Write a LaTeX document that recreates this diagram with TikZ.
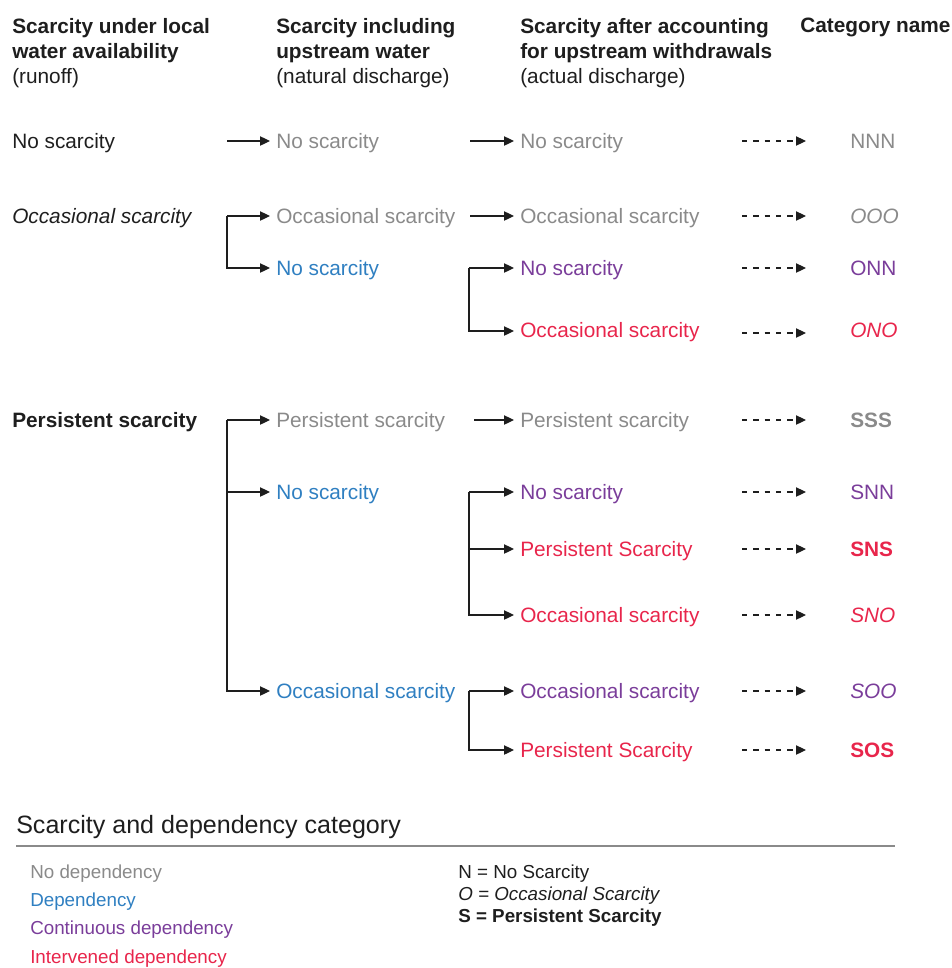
\documentclass[tikz,border=0pt]{standalone}
\usepackage{fontspec}
\setmainfont{Liberation Sans}
\usetikzlibrary{arrows.meta}
\definecolor{tgray}{HTML}{8A8A8A}
\definecolor{tblue}{HTML}{2F7FC1}
\definecolor{tpurp}{HTML}{7A3D9A}
\definecolor{tred}{HTML}{E8254B}
\definecolor{tblack}{HTML}{1E1E1E}
\newcommand{\fsmain}{\fontsize{15.6}{18.75}\selectfont}
\newcommand{\fsleg}{\fontsize{14.1}{16}\selectfont}
\newcommand{\fstitle}{\fontsize{18.8}{22}\selectfont}
\tikzset{
  lbl/.style={anchor=west, inner sep=0pt, text height=0.72em, text depth=0pt, yshift=-2.25pt, font=\fsmain, text=tblack},
  leg/.style={anchor=west, inner sep=0pt, text height=0.72em, text depth=0pt, yshift=-1.5pt, font=\fsleg, text=tblack},
  hdr/.style={anchor=north west, inner sep=0pt, align=left, font=\fsmain, text=tblack},
  arr/.style={draw=tblack, line width=0.9pt, -{Triangle[length=7.5pt,width=7pt]}, shorten >=4.5pt},
  darr/.style={draw=tblack, line width=0.8pt, dash pattern=on 4pt off 4.5pt, -{Triangle[length=7.5pt,width=7pt]}, shorten >=33pt},
}
\begin{document}
\begin{tikzpicture}[x=0.75pt,y=-0.75pt]
\useasboundingbox (0,0) rectangle (952,968);

% headers
\node[hdr] (h1) at (12,18) {\textbf{Scarcity under local}\\\textbf{water availability}\\(runoff)};
\node[hdr] (h2) at (276,18) {\textbf{Scarcity including}\\\textbf{upstream water}\\(natural discharge)};
\node[hdr] (h3) at (520,18) {\textbf{Scarcity after accounting}\\\textbf{for upstream withdrawals}\\(actual discharge)};
\node[hdr] (h4) at (800,18) {\textbf{Category name}};

% column 1
\node[lbl] (a1) at (12,141) {No scarcity};
\node[lbl] (a2) at (12,216) {\itshape Occasional scarcity};
\node[lbl] (a3) at (12,420) {\bfseries Persistent scarcity};

% column 2
\node[lbl,text=tgray] (b1) at (276,141) {No scarcity};
\node[lbl,text=tgray] (b2) at (276,216) {Occasional scarcity};
\node[lbl,text=tblue] (b3) at (276,268) {No scarcity};
\node[lbl,text=tgray] (b4) at (276,420) {Persistent scarcity};
\node[lbl,text=tblue] (b5) at (276,492) {No scarcity};
\node[lbl,text=tblue] (b6) at (276,691) {Occasional scarcity};

% column 3
\node[lbl,text=tgray] (c1) at (520,141) {No scarcity};
\node[lbl,text=tgray] (c2) at (520,216) {Occasional scarcity};
\node[lbl,text=tpurp] (c3) at (520,268) {No scarcity};
\node[lbl,text=tred]  (c4) at (520,330) {Occasional scarcity};
\node[lbl,text=tgray] (c5) at (520,420) {Persistent scarcity};
\node[lbl,text=tpurp] (c6) at (520,492) {No scarcity};
\node[lbl,text=tred]  (c7) at (520,549) {Persistent Scarcity};
\node[lbl,text=tred]  (c8) at (520,615) {Occasional scarcity};
\node[lbl,text=tpurp] (c9) at (520,691) {Occasional scarcity};
\node[lbl,text=tred]  (c10) at (520,750) {Persistent Scarcity};

% column 4
\node[lbl,text=tgray] (d1) at (850,141) {NNN};
\node[lbl,text=tgray] (d2) at (850,216) {\itshape OOO};
\node[lbl,text=tpurp] (d3) at (850,268) {ONN};
\node[lbl,text=tred]  (d4) at (850,330) {\itshape ONO};
\node[lbl,text=tgray] (d5) at (850,420) {\bfseries SSS};
\node[lbl,text=tpurp] (d6) at (850,492) {SNN};
\node[lbl,text=tred]  (d7) at (850,549) {\bfseries SNS};
\node[lbl,text=tred]  (d8) at (850,615) {\itshape SNO};
\node[lbl,text=tpurp] (d9) at (850,691) {\itshape SOO};
\node[lbl,text=tred]  (d10) at (850,750) {\bfseries SOS};

% arrow start coordinates
\coordinate (s1) at (227,141);
\coordinate (s2) at (227,216);
\coordinate (s3) at (227,420);
\coordinate (t1) at (470,141);
\coordinate (t2) at (470,216);
\coordinate (t3) at (469,268);
\coordinate (t4) at (474,420);
\coordinate (t5) at (469,492);
\coordinate (t6) at (469,691);

% column 1 -> 2
\draw[arr] (s1) -- (s1 -| b1.west);
\draw[arr] (s2) -- (s2 -| b2.west);
\draw[arr] (s2) |- (b3.west |- 0,268);
\draw[arr] (s3) -- (s3 -| b4.west);
\draw[arr] (s3) |- (b5.west |- 0,492);
\draw[arr] (s3) |- (b6.west |- 0,691);

% column 2 -> 3
\draw[arr] (t1) -- (t1 -| c1.west);
\draw[arr] (t2) -- (t2 -| c2.west);
\draw[arr] (t3) -- (t3 -| c3.west);
\draw[arr] (t3) |- (c4.west |- 0,331);
\draw[arr] (t4) -- (t4 -| c5.west);
\draw[arr] (t5) -- (t5 -| c6.west);
\draw[arr] (t5) |- (c7.west |- 0,549);
\draw[arr] (t5) |- (c8.west |- 0,615);
\draw[arr] (t6) -- (t6 -| c9.west);
\draw[arr] (t6) |- (c10.west |- 0,750);

% dashed arrows
\foreach \i/\y in {1/141,2/216,3/268,4/333,5/420,6/492,7/549,8/615,9/691,10/750}{
  \coordinate (u\i) at (742,\y);
  \draw[darr] (u\i) -- (u\i -| d\i.west);
}

% legend
\node[anchor=west, inner sep=0pt, text height=0.72em, text depth=0pt, yshift=-3pt, font=\fstitle, text=tblack] (lt) at (16,825) {Scarcity and dependency category};
\coordinate (la) at (16,846);
\coordinate (lb) at (895,846);
\draw[draw=tgray, line width=0.8pt] (la) -- (lb);
\node[leg,text=tgray] (l1) at (30,872) {No dependency};
\node[leg,text=tblue] (l2) at (30,900) {Dependency};
\node[leg,text=tpurp] (l3) at (30,928) {Continuous dependency};
\node[leg,text=tred]  (l4) at (30,957) {Intervened dependency};
\node[leg] (r1) at (458,872) {N = No Scarcity};
\node[leg] (r2) at (458,894) {\itshape O = Occasional Scarcity};
\node[leg] (r3) at (458,916) {\bfseries S = Persistent Scarcity};
\end{tikzpicture}
\end{document}
